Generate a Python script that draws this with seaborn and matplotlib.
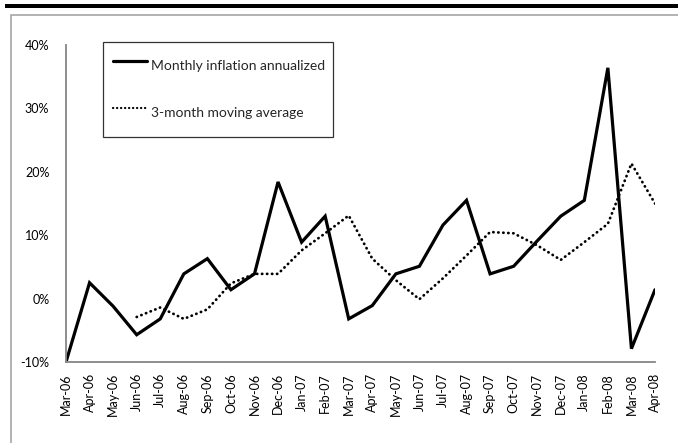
import matplotlib
matplotlib.use("Agg")
import matplotlib.pyplot as plt
from matplotlib.patches import Rectangle
from matplotlib.lines import Line2D
from matplotlib.ticker import FuncFormatter
import seaborn as sns
import pandas as pd
import numpy as np

# Monthly observations, Mar-06 .. Apr-08
months = ["Mar-06", "Apr-06", "May-06", "Jun-06", "Jul-06", "Aug-06", "Sep-06",
          "Oct-06", "Nov-06", "Dec-06", "Jan-07", "Feb-07", "Mar-07", "Apr-07",
          "May-07", "Jun-07", "Jul-07", "Aug-07", "Sep-07", "Oct-07", "Nov-07",
          "Dec-07", "Jan-08", "Feb-08", "Mar-08", "Apr-08"]

# Monthly inflation, annualized (%)
monthly_inflation = [-10.0, 2.5, -1.2, -5.7, -3.2, 3.9, 6.3, 1.4, 3.9, 18.4,
                     8.9, 13.0, -3.2, -1.1, 3.9, 5.1, 11.6, 15.5, 3.9, 5.1,
                     9.1, 13.0, 15.5, 36.4, -7.9, 1.4]

# 3-month moving average (%), first value available in Jun-06
moving_average = [np.nan, np.nan, np.nan, -2.9, -1.4, -3.2, -1.7, 2.4, 3.9, 3.9,
                  7.6, 10.3, 13.1, 6.3, 2.9, -0.1, 3.2, 6.8, 10.5, 10.3,
                  8.4, 6.1, 8.9, 11.8, 21.3, 15.0]

y_ticks = [-10, 0, 10, 20, 30, 40]

label_solid = "Monthly inflation annualized"
label_dotted = "3-month moving average"

sns.set_style("white")
plt.rcParams["font.family"] = ["Lato", "DejaVu Sans"]

W, H = 678, 443
fig = plt.figure(figsize=(W / 100, H / 100), dpi=100)
fig.patch.set_facecolor("white")

ax = fig.add_axes([66 / W, 81 / H, 589 / W, 317 / H])

df = pd.DataFrame({
    "pos": np.arange(len(months)),
    "month": months,
    "monthly": monthly_inflation,
    "avg": moving_average,
})

dot_style = (0, (0.1, 1.7))

sns.lineplot(data=df, x="pos", y="monthly", ax=ax, color="black",
             linewidth=2.3, solid_joinstyle="miter")
sns.lineplot(data=df.dropna(), x="pos", y="avg", ax=ax, color="black",
             linewidth=2.0, linestyle=dot_style, dash_capstyle="round")

ax.set_xlim(0, len(months) - 1)
ax.set_ylim(y_ticks[0], y_ticks[-1])
ax.set_yticks(y_ticks)
ax.yaxis.set_major_formatter(FuncFormatter(lambda v, _: f"{v:.0f}%"))
ax.set_xticks(df["pos"])
ax.set_xticklabels(months, rotation=90)
ax.set_xlabel("")
ax.set_ylabel("")

ax.tick_params(axis="both", length=0, labelsize=9, colors="black")
ax.tick_params(axis="y", pad=12)
ax.tick_params(axis="x", pad=8)

for side in ("top", "right"):
    ax.spines[side].set_visible(False)
for side in ("left", "bottom"):
    ax.spines[side].set_color("#868686")
    ax.spines[side].set_linewidth(1.3)

handles = [
    Line2D([], [], color="black", linewidth=2.3),
    Line2D([], [], color="black", linewidth=1.6, linestyle=dot_style,
           dash_capstyle="round"),
]
leg = ax.legend(handles, [label_solid, label_dotted],
                loc="upper left",
                bbox_to_anchor=(103 / W, 1 - 42 / H, 230 / W, 0.0),
                bbox_transform=fig.transFigure, mode="expand",
                fontsize=10, frameon=True, fancybox=False,
                borderpad=0.75, handlelength=2.45, handleheight=2.6,
                handletextpad=0.25, labelspacing=1.45, borderaxespad=0)
leg.get_frame().set_edgecolor("black")
leg.get_frame().set_linewidth(0.9)

# Outer chart frame and the heavy rule above it
fig.add_artist(Rectangle((11 / W, -0.05), 1.0, 1 - 15 / H + 0.05,
                         transform=fig.transFigure, fill=False,
                         edgecolor="#a6a6a6", linewidth=1.2))
fig.add_artist(Rectangle((5 / W, 1 - 8 / H), 1.0, 4 / H,
                         transform=fig.transFigure, facecolor="black",
                         edgecolor="none"))

fig.savefig("out.png", dpi=100)
